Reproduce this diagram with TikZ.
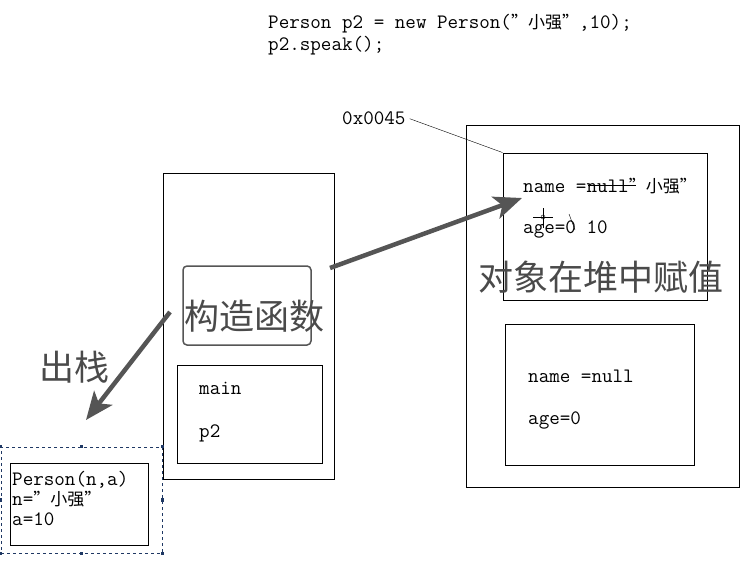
\documentclass[tikz,border=0pt]{standalone}
\usepackage{fontspec}
\newfontfamily\cjk{Noto Sans CJK SC}
\usetikzlibrary{arrows.meta}

\definecolor{bigtext}{HTML}{4A4A4A}
\definecolor{arrowgray}{HTML}{555555}
\definecolor{selblue}{HTML}{1F3864}

\newcommand{\xq}{{\cjk\fontsize{17}{20}\selectfont ”小强”}}

\tikzset{
  box/.style={draw, line width=0.9pt, inner sep=0pt},
  code/.style={anchor=base west, inner sep=0pt, font=\fontsize{20.5}{24}\selectfont\ttfamily},
  big/.style={inner sep=0pt, text=bigtext, font=\fontsize{35}{40}\selectfont\cjk},
  fatarrow/.style={line width=4.5pt, draw=arrowgray, -{Stealth[length=28pt,width=23pt,inset=7pt]}},
  handle/.style={fill=selblue, minimum size=3.5pt, inner sep=0pt},
}

\begin{document}
\begin{tikzpicture}[x=1pt, y=-1pt]
  \useasboundingbox (0,0) rectangle (751,564);
  % Code
  \node (code1) [code] at (268,29) {Person p2 = new Person(\xq,10);};
  \node (code2) [code] at (268,51) {p2.speak();};
  % Heap
  \node (heap) [box, minimum width=273, minimum height=362] at (602.5,306) {};
  \node (obj) [box, minimum width=204, minimum height=147] at (605,226.5) {};
  \node (objname) [code] at (523,192) {name =null\xq};
  \node (objage) [code] at (523,233) {age=0 10};
  \draw[thin] (588,185) -- (636,185);
  \draw[thin] (569,214) -- (575,230);
  % cursor mark
  \draw[thin] (533,217) -- (553,217) (543,208) -- (543,228);
  \draw[thin] (543,217) circle (2);
  \node (objtitle) [big] at (601,277) {对象在堆中赋值};
  \node (init) [box, minimum width=189, minimum height=141] at (599.5,394.5) {};
  \node (initname) [code] at (528,382) {name =null};
  \node (initage) [code] at (528,424) {age=0};
  % Address
  \node (addr) [code] at (342,125) {0x0045};
  \draw[thin] (addr.east) ++(4,0) -- (obj.north west);
  % Stack
  \node (stack) [box, minimum width=171, minimum height=306] at (248.5,326) {};
  \node (ctor) [draw=arrowgray, line width=1.5pt, rounded corners=4pt, minimum width=128, minimum height=79] at (247,305.5) {};
  \node (ctortitle) [big] at (254,316) {构造函数};
  \node (mainf) [box, minimum width=145, minimum height=98] at (249.5,414) {};
  \node (mainname) [code] at (199,394) {main};
  \node (mainvar) [code] at (199,437) {p2};
  % Popped frame
  \node (sel) [draw=selblue, dashed, line width=0.8pt, minimum width=161, minimum height=106] at (81.5,500) {};
  \foreach \p in {north west, north, north east, west, east, south west, south, south east}
    \node [handle] at (sel.\p) {};
  \node (frame) [box, minimum width=138, minimum height=82] at (79,504) {};
  \node (frame1) [code] at (12,485) {Person(n,a)};
  \node (frame2) [code] at (12,505) {n=\xq};
  \node (frame3) [code] at (12,525) {a=10};
  \node (pop) [big] at (74,367) {出栈};
  % Arrows
  \coordinate (setfrom) at (330,268);
  \coordinate (setto) at (522,198);
  \coordinate (popfrom) at (170,312);
  \coordinate (popto) at (86,420);
  \draw[fatarrow] (setfrom) -- (setto);
  \draw[fatarrow] (popfrom) -- (popto);
\end{tikzpicture}
\end{document}
